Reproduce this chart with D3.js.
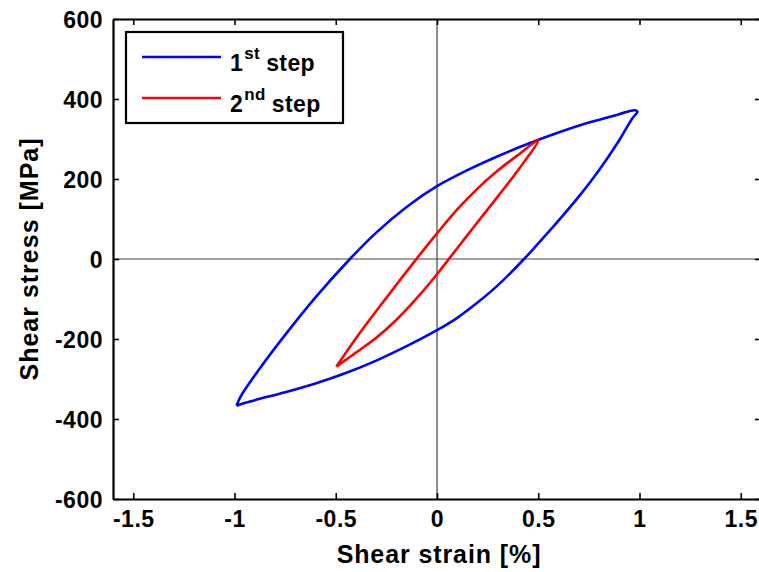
<!DOCTYPE html>
<html>
<head>
<meta charset="utf-8">
<script src="https://cdn.jsdelivr.net/npm/d3@7"></script>
<style>
  html, body { margin: 0; padding: 0; background: #fff; }
  svg { display: block; }
  text { font-family: "Liberation Sans", Arial, sans-serif; font-weight: bold; fill: #000; }
</style>
</head>
<body>
<svg id="chart" width="759" height="572"></svg>
<script>
// ---- data ----
const xTicks = [-1.5, -1, -0.5, 0, 0.5, 1, 1.5];
const xTickLabels = ["-1.5", "-1", "-0.5", "0", "0.5", "1", "1.5"];
const yTicks = [-600, -400, -200, 0, 200, 400, 600];
const yTickLabels = ["-600", "-400", "-200", "0", "200", "400", "600"];

// 1st step: loading branch (bottom-left to top-right) then unloading branch back
const step1Strain = [-0.99, -0.97, -0.877, -0.744, -0.6, -0.43, -0.3, -0.15, 0, 0.15, 0.3, 0.45, 0.6, 0.75, 0.9, 0.976, 0.99,
                     0.965, 0.9, 0.8, 0.7, 0.6, 0.5, 0.43, 0.3, 0.2, 0.1, 0, -0.15, -0.3, -0.45, -0.6, -0.75, -0.9, -0.97, -0.99];
const step1Stress = [-367, -344, -275, -186, -96, 0, 66, 130, 182, 222, 257, 288, 316, 341, 362, 372, 368,
                     352, 297, 222, 156, 96, 39, 0, -66, -109, -147, -178, -218, -254, -285, -311, -333, -353, -363, -367];

// 2nd step
const step2Strain = [-0.497, -0.4, -0.3, -0.2, -0.1, 0, 0.1, 0.2, 0.3, 0.4, 0.499,
                     0.4, 0.3, 0.2, 0.1, 0, -0.1, -0.2, -0.3, -0.4, -0.497];
const step2Stress = [-269, -198, -130, -64, 1, 64, 124, 176, 221, 260, 296,
                     222, 156, 92, 27, -38, -98, -152, -197, -234, -269];

const seriesNames = ["1", "2"];
const seriesSups = ["st", "nd"];
const seriesColors = ["#0000ff", "#ff0000"];

// ---- layout ----
const svg = d3.select("#chart");
const L = 113, R = 761, T = 19, B = 499;
const x = d3.scaleLinear().domain([-1.6, 1.6]).range([L, R]);
const y = d3.scaleLinear().domain([-600, 600]).range([B, T]);

// zero lines
svg.append("line").attr("x1", x(-1.6)).attr("x2", x(1.6)).attr("y1", y(0)).attr("y2", y(0))
  .attr("stroke", "#444").attr("stroke-width", 1.2);
svg.append("line").attr("x1", x(0)).attr("x2", x(0)).attr("y1", y(-600)).attr("y2", y(600))
  .attr("stroke", "#444").attr("stroke-width", 1.2);

// data lines
const line = d3.line().x(d => x(d[0])).y(d => y(d[1])).curve(d3.curveCatmullRom.alpha(0.5));
const s1 = step1Strain.map((v, i) => [v, step1Stress[i]]);
const s2 = step2Strain.map((v, i) => [v, step2Stress[i]]);
svg.append("path").attr("d", line(s1)).attr("fill", "none").attr("stroke", seriesColors[0]).attr("stroke-width", 2.6).attr("stroke-linejoin", "round");
svg.append("path").attr("d", line(s2)).attr("fill", "none").attr("stroke", seriesColors[1]).attr("stroke-width", 2.6).attr("stroke-linejoin", "round");

// axes (box with inward ticks)
const tl = 6;
const gx = svg.append("g").attr("transform", `translate(0,${B})`)
  .call(d3.axisBottom(x).tickValues(xTicks).tickFormat((d, i) => xTickLabels[i]).tickSizeInner(-tl).tickSizeOuter(0).tickPadding(14));
const gxt = svg.append("g").attr("transform", `translate(0,${T})`)
  .call(d3.axisTop(x).tickValues(xTicks).tickFormat("").tickSizeInner(-tl).tickSizeOuter(0));
const gy = svg.append("g").attr("transform", `translate(${L},0)`)
  .call(d3.axisLeft(y).tickValues(yTicks).tickFormat((d, i) => yTickLabels[i]).tickSizeInner(-tl).tickSizeOuter(0).tickPadding(10));
const gyr = svg.append("g").attr("transform", `translate(${R},0)`)
  .call(d3.axisRight(y).tickValues(yTicks).tickFormat("").tickSizeInner(-tl).tickSizeOuter(0));
[gx, gxt, gy, gyr].forEach(g => {
  g.select(".domain").attr("stroke", "#000").attr("stroke-width", 2.2);
  g.selectAll(".tick line").attr("stroke", "#000").attr("stroke-width", 1.6);
  g.selectAll("text").attr("font-family", "Liberation Sans, Arial, sans-serif")
    .attr("font-weight", "bold").attr("font-size", 23).attr("letter-spacing", 0.5).attr("fill", "#000");
});
gx.selectAll("text").attr("dy", "0.62em");
gy.selectAll("text").attr("dy", "0.36em");

// axis labels
svg.append("text").attr("x", 439).attr("y", 563).attr("text-anchor", "middle")
  .attr("font-size", 25).attr("letter-spacing", 0.9).text("Shear strain [%]");
svg.append("text").attr("transform", `translate(38,${259}) rotate(-90)`).attr("text-anchor", "middle")
  .attr("font-size", 25).attr("letter-spacing", 1).text("Shear stress [MPa]");

// legend
const lg = svg.append("g");
lg.append("rect").attr("x", 126).attr("y", 32).attr("width", 217).attr("height", 91)
  .attr("fill", "#fff").attr("stroke", "#000").attr("stroke-width", 2.2);
const rows = [57, 98];
seriesNames.forEach((n, i) => {
  lg.append("line").attr("x1", 142).attr("x2", 221).attr("y1", rows[i]).attr("y2", rows[i])
    .attr("stroke", seriesColors[i]).attr("stroke-width", 2.6);
  const t = lg.append("text").attr("x", 230).attr("y", rows[i] + 14).attr("font-size", 23).attr("letter-spacing", 0.4);
  t.append("tspan").text(n);
  t.append("tspan").attr("dy", -12).attr("font-size", 17).attr("dx", 1).text(seriesSups[i]);
  t.append("tspan").attr("dy", 12).attr("dx", 6).text("step");
});
</script>
</body>
</html>
